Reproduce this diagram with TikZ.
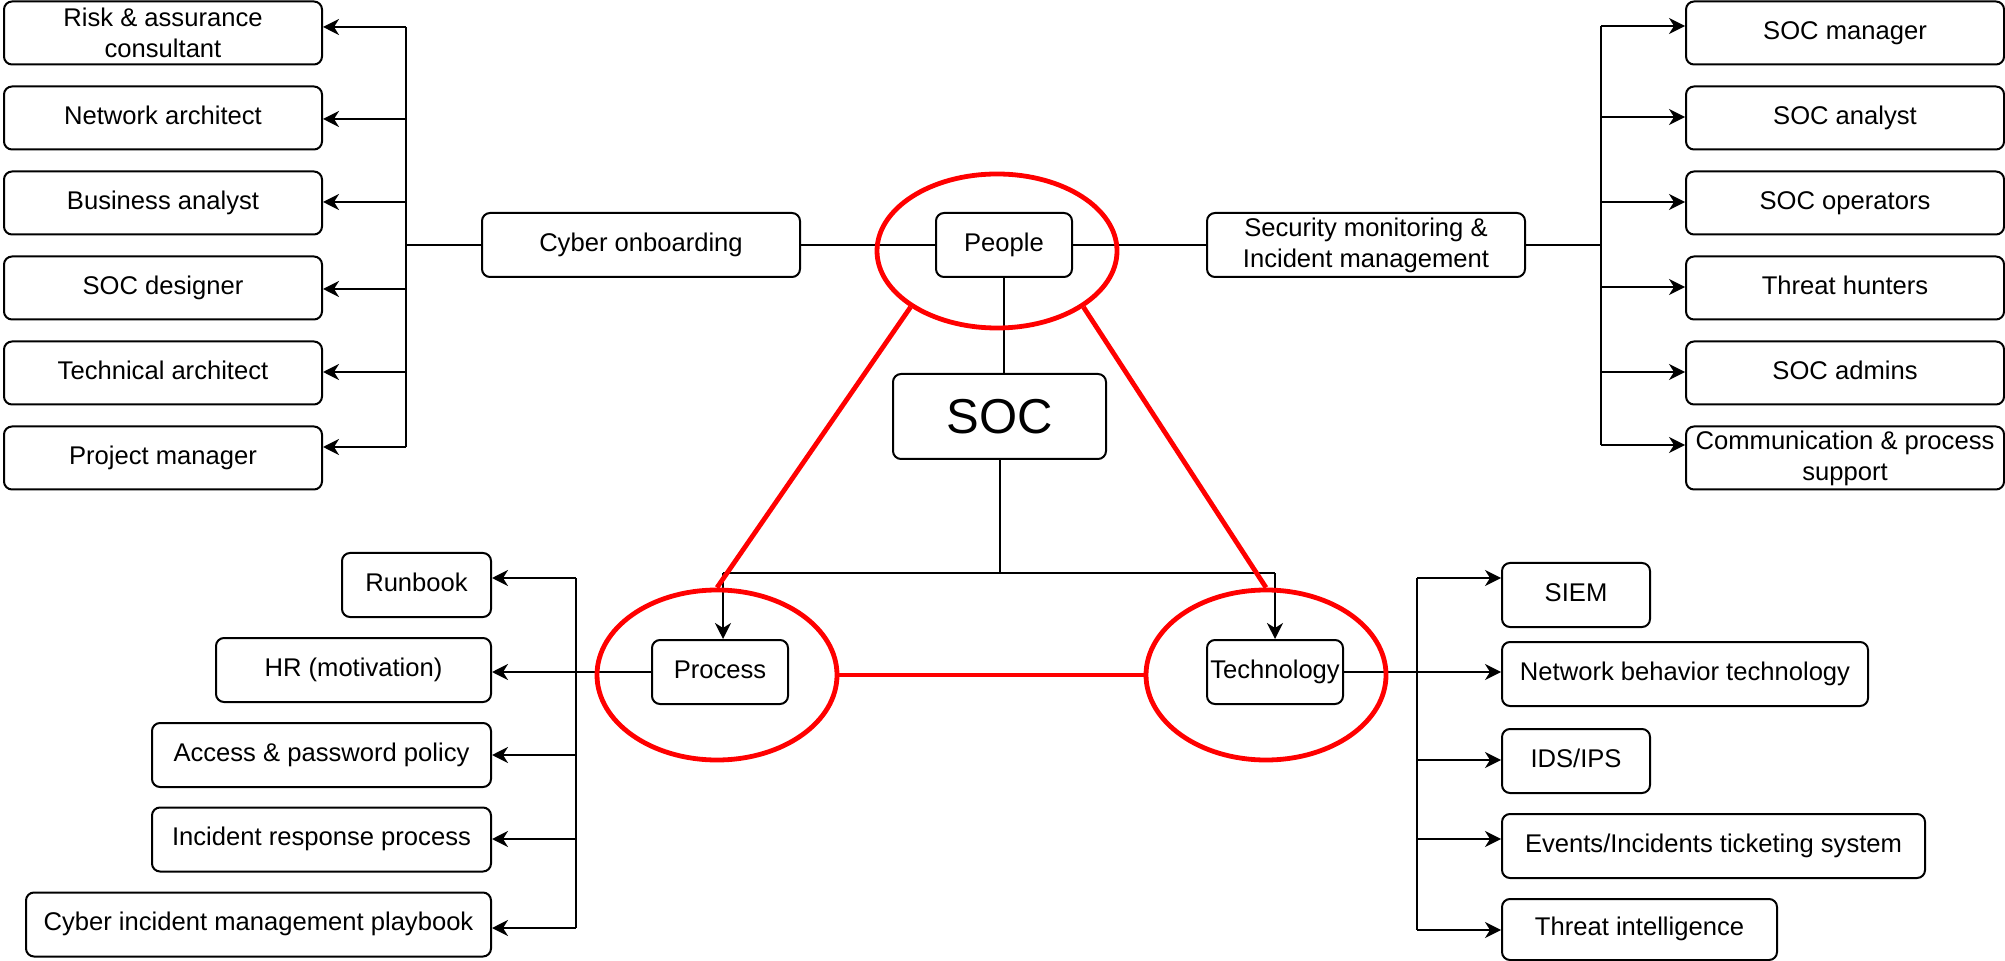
\documentclass[tikz,border=0pt]{standalone}
\usepackage{fontspec}
\setmainfont{Liberation Sans}
\usetikzlibrary{arrows.meta,shapes.geometric}
\begin{document}
\begin{tikzpicture}[x=0.5pt,y=-0.5pt,
  box/.style={draw=black, line width=1pt, rounded corners=4pt, fill=white, inner sep=0pt,
    font=\fontsize{12.8}{15.5}\selectfont, align=center},
  one/.style={text height=9pt, text depth=2.7pt},
  col/.style={minimum width=159pt, minimum height=31.5pt},
  mid/.style={minimum height=32pt},
  ln/.style={draw=black, line width=1pt},
  arr/.style={ln, -{Stealth[length=8pt,width=8pt,inset=2.5pt]}},
  ell/.style={draw=red, line width=2.4pt, ellipse, inner sep=0pt},
  redl/.style={draw=red, line width=2.4pt}]
\useasboundingbox (0,0) rectangle (2005,961);

% ---- upper-left column
\node[box,col] (ra) at (163,33) {Risk \& assurance\\consultant};
\node[box,col,one] (na) at (163,118) {Network architect};
\node[box,col,one] (ba) at (163,203) {Business analyst};
\node[box,col,one] (sd) at (163,288) {SOC designer};
\node[box,col,one] (ta) at (163,373) {Technical architect};
\node[box,col,one] (pm) at (163,458) {Project manager};

% ---- upper-right column
\node[box,col,one] (sm) at (1845,33) {SOC manager};
\node[box,col,one] (san) at (1845,118) {SOC analyst};
\node[box,col,one] (so) at (1845,203) {SOC operators};
\node[box,col,one] (th) at (1845,288) {Threat hunters};
\node[box,col,one] (sa) at (1845,373) {SOC admins};
\node[box,col] (cp) at (1845,458) {Communication \& process\\support};

% ---- middle row
\node[box,mid,one,minimum width=159pt] (cyb) at (641,245) {Cyber onboarding};
\node[box,mid,one,minimum width=68pt] (ppl) at (1004,245) {People};
\node[box,mid,minimum width=159pt] (sec) at (1366,245) {Security monitoring \&\\Incident management};
\node[box,minimum width=106.5pt,minimum height=42.5pt,font=\fontsize{24.5}{29}\selectfont] (soc) at (999.5,416.5) {SOC};
\node[box,mid,one,minimum width=68pt] (proc) at (720,672) {Process};
\node[box,mid,one,minimum width=68pt] (tech) at (1275,672) {Technology};

% ---- lower-left column
\node[box,mid,one,minimum width=74.5pt] (rb) at (416.5,585) {Runbook};
\node[box,mid,one,minimum width=137.5pt] (hr) at (353.5,670) {HR (motivation)};
\node[box,mid,one,minimum width=169.5pt] (ap) at (321.5,755) {Access \& password policy};
\node[box,mid,one,minimum width=169.5pt] (ir) at (321.5,839.5) {Incident response process};
\node[box,mid,one,minimum width=232.5pt] (ci) at (258.5,924.5) {Cyber incident management playbook};

% ---- lower-right column
\node[box,mid,one,minimum width=74pt] (siem) at (1576,595) {SIEM};
\node[box,mid,one,minimum width=183pt] (nbt) at (1685,674) {Network behavior technology};
\node[box,mid,one,minimum width=74pt] (ids) at (1576,761) {IDS/IPS};
\node[box,mid,one,minimum width=211.5pt] (ev) at (1713.5,846) {Events/Incidents ticketing system};
\node[box,minimum height=30.5pt,one,minimum width=137.5pt] (ti) at (1639.5,929.5) {Threat intelligence};

% ---- trunk coordinates
\coordinate (l1) at (406,27);  \coordinate (l2) at (406,119); \coordinate (l3) at (406,202);
\coordinate (l4) at (406,289); \coordinate (l5) at (406,372); \coordinate (l6) at (406,447);
\coordinate (lm) at (406,245);
\coordinate (r1) at (1601,26);  \coordinate (r2) at (1601,117); \coordinate (r3) at (1601,202);
\coordinate (r4) at (1601,287); \coordinate (r5) at (1601,372); \coordinate (r6) at (1601,445);
\coordinate (rm) at (1601,245);
\coordinate (j) at (999.5,573); \coordinate (jl) at (723,573); \coordinate (jr) at (1275,573);
\coordinate (b1) at (576,578); \coordinate (b2) at (576,672); \coordinate (b3) at (576,755);
\coordinate (b4) at (576,839); \coordinate (b5) at (576,928);
\coordinate (t1) at (1417,578); \coordinate (t2) at (1417,672); \coordinate (t3) at (1417,760);
\coordinate (t4) at (1417,839); \coordinate (t5) at (1417,930);

% ---- upper-left connectors
\draw[ln] (l1) -- (l6);
\draw[ln] (cyb.west) -- (lm);
\draw[arr] (l1) -- (ra.east |- l1);
\draw[arr] (l2) -- (na.east |- l2);
\draw[arr] (l3) -- (ba.east |- l3);
\draw[arr] (l4) -- (sd.east |- l4);
\draw[arr] (l5) -- (ta.east |- l5);
\draw[arr] (l6) -- (pm.east |- l6);
\draw[ln] (cyb.east) -- (ppl.west);

% ---- upper-right connectors
\draw[ln] (ppl.east) -- (sec.west);
\draw[ln] (sec.east) -- (rm);
\draw[ln] (r1) -- (r6);
\draw[arr] (r1) -- (sm.west |- r1);
\draw[arr] (r2) -- (san.west |- r2);
\draw[arr] (r3) -- (so.west |- r3);
\draw[arr] (r4) -- (th.west |- r4);
\draw[arr] (r5) -- (sa.west |- r5);
\draw[arr] (r6) -- (cp.west |- r6);

% ---- centre
\draw[ln] (ppl.south) -- (ppl.south |- soc.north);
\draw[ln] (soc.south) -- (j);
\draw[ln] (jl) -- (jr);
\draw[arr] (jl) -- (jl |- proc.north);
\draw[arr] (jr) -- (tech.north);

% ---- lower-left connectors
\draw[ln] (b1) -- (b5);
\draw[arr] (proc.west) -- (proc.west -| hr.east);
\draw[arr] (b1) -- (rb.east |- b1);
\draw[arr] (b3) -- (ap.east |- b3);
\draw[arr] (b4) -- (ir.east |- b4);
\draw[arr] (b5) -- (ci.east |- b5);

% ---- lower-right connectors
\draw[ln] (t1) -- (t5);
\draw[arr] (tech.east) -- (tech.east -| nbt.west);
\draw[arr] (t1) -- (siem.west |- t1);
\draw[arr] (t3) -- (ids.west |- t3);
\draw[arr] (t4) -- (ev.west |- t4);
\draw[arr] (t5) -- (ti.west |- t5);

% ---- red triangle
\node[ell, minimum width=120pt, minimum height=77pt] (ePeople) at (997,251) {};
\node[ell, minimum width=120pt, minimum height=85pt] (eProc) at (717,675) {};
\node[ell, minimum width=120pt, minimum height=85pt] (eTech) at (1266,675) {};
\draw[redl] (ePeople.213.4) -- (eProc.north);
\draw[redl] (ePeople.327.6) -- (eTech.north);
\draw[redl] (eProc.east) -- (eTech.west);
\end{tikzpicture}
\end{document}
